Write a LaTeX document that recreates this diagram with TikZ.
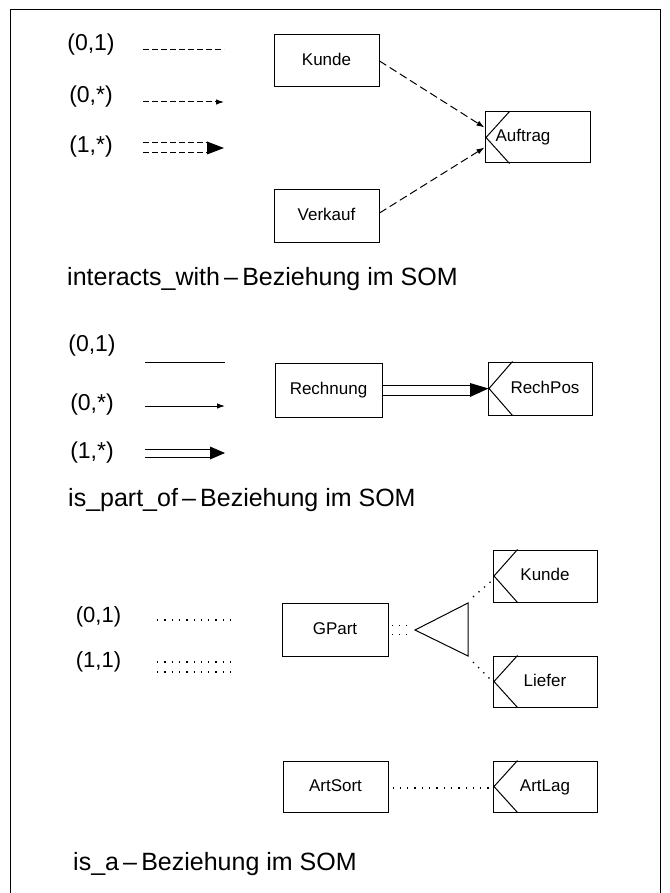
\documentclass[tikz,border=0pt]{standalone}
\usepackage{fontspec}
\setmainfont{Liberation Sans}
\usetikzlibrary{arrows.meta}
\newcommand\notchbox[1]{\draw[thinline] ([xshift=25pt]#1.north west) -- ([xshift=1.5pt]#1.west) -- ([xshift=25pt]#1.south west);}
\begin{document}
\begin{tikzpicture}[x=1pt,y=-1pt,
  thinline/.style={line width=1pt},
  objbox/.style={draw, line width=1pt, minimum width=105pt, minimum height=52pt, inner sep=0pt,
    text height=12.5pt, text depth=3.5pt, font=\fontsize{17}{20}\selectfont},
  card/.style={font=\fontsize{23}{27}\selectfont, inner sep=0pt},
  caption/.style={font=\fontsize{25}{30}\selectfont, inner sep=0pt, anchor=base west},
  legdash/.style={line width=1pt, dash pattern=on 6pt off 3pt},
  iwarrow/.style={line width=1pt, dash pattern=on 8pt off 4pt, -{Latex[length=8pt,width=5.5pt]}},
  dotline/.style={line width=1.3pt, dash pattern=on 1.3pt off 6pt},
  smalltip/.style={-{Latex[length=8pt,width=5.5pt]}}
]
\useasboundingbox (0,0) rectangle (669,893);
% open frame
\draw[line width=1pt] (10,893) -- (10,10) -- (660,10) -- (660,893);

% ---------- interacts_with ----------
\node[card] (c1a) at (91,45) {(0,1)};
\node[card] (c1b) at (91,97) {(0,*)};
\node[card] (c1c) at (91,147) {(1,*)};
\coordinate (l1a) at (143,50);  \coordinate (r1a) at (224,50);
\coordinate (l1b) at (143,102); \coordinate (r1b) at (224,102);
\draw[legdash] (l1a) -- (r1a);
\draw[legdash, smalltip] (l1b) -- (r1b);
\coordinate (l1c) at (143,148); \coordinate (m1c) at (207,148); \coordinate (r1c) at (224,148);
\draw[legdash] ([yshift=5pt]l1c) -- ([yshift=5pt]m1c);
\draw[legdash] ([yshift=-5pt]l1c) -- ([yshift=-5pt]m1c);
\fill ([yshift=6.5pt]m1c) -- (r1c) -- ([yshift=-6.5pt]m1c) -- cycle;

\node[objbox] (kunde) at (326.5,61) {Kunde};
\node[objbox] (verkauf) at (326.5,216) {Verkauf};
\node[objbox, minimum height=51pt] (auftrag) at (537.5,137.5) {};
\node[font=\fontsize{17}{20}\selectfont, inner sep=0pt, text height=12.5pt, text depth=3.5pt] (auftragtxt) at (523,137.5) {Auftrag};
\notchbox{auftrag}
\draw[iwarrow] (kunde.east) -- ([yshift=10pt]auftrag.west);
\draw[iwarrow] ([yshift=3pt]verkauf.east) -- ([yshift=-10pt]auftrag.west);

\node[caption] (t1) at (67,285) {interacts\_with\,–\,Beziehung im SOM};

% ---------- is_part_of ----------
\node[card] (c2a) at (92,346) {(0,1)};
\node[card] (c2b) at (92,405) {(0,*)};
\node[card] (c2c) at (92,453) {(1,*)};
\coordinate (l2a) at (145,362); \coordinate (r2a) at (225,362);
\coordinate (l2b) at (145,406); \coordinate (r2b) at (225,406);
\draw[thinline] (l2a) -- (r2a);
\draw[thinline, -{Latex[length=8pt,width=5.5pt]}] (l2b) -- (r2b);
\coordinate (l2c) at (145,453); \coordinate (m2c) at (210,453); \coordinate (r2c) at (225,453);
\draw[thinline] ([yshift=4pt]l2c) -- ([yshift=4pt]m2c);
\draw[thinline] ([yshift=-4pt]l2c) -- ([yshift=-4pt]m2c);
\fill ([yshift=6.5pt]m2c) -- (r2c) -- ([yshift=-6.5pt]m2c) -- cycle;

\node[objbox, minimum width=107pt, minimum height=54pt] (rechnung) at (328.5,390) {Rechnung};
\node[objbox, minimum width=104pt, minimum height=53pt] (rechpos) at (540,388.5) {\hspace*{10pt}RechPos};
\notchbox{rechpos}
\coordinate (rpbase) at (470,390);
\draw[thinline] ([yshift=5pt]rechnung.east) -- ([yshift=5pt]rpbase |- rechnung.east);
\draw[thinline] ([yshift=-5pt]rechnung.east) -- ([yshift=-5pt]rpbase |- rechnung.east);
\fill ([yshift=7pt]rpbase) -- ([xshift=1pt]rechpos.west) -- ([yshift=-7pt]rpbase) -- cycle;

\node[caption] (t2) at (68,506) {is\_part\_of\,–\,Beziehung im SOM};

% ---------- is_a ----------
\node[card, font=\fontsize{22}{26}\selectfont] (c3a) at (98.5,617) {(0,1)};
\node[card, font=\fontsize{22}{26}\selectfont] (c3b) at (98.5,662) {(1,1)};
\coordinate (l3a) at (157,620); \coordinate (r3a) at (232,620);
\draw[dotline] (l3a) -- (r3a);
\coordinate (l3b) at (157,662); \coordinate (r3b) at (232,662);
\draw[dotline] (l3b) -- (r3b);
\draw[dotline] ([yshift=-10pt]l3b) -- ([yshift=-10pt]r3b);

\node[objbox, minimum width=106pt, minimum height=53pt] (gpart) at (335,629.5) {GPart};
\coordinate (apex) at (415,630);
\coordinate (ttop) at (468,603);
\coordinate (tbot) at (468,656);
\draw[thinline] (apex) -- (ttop) -- (tbot) -- cycle;
\draw[dotline] ([xshift=3pt,yshift=4pt]gpart.east) -- ([xshift=-2pt,yshift=4pt]apex |- gpart.east);
\draw[dotline] ([xshift=3pt,yshift=-5pt]gpart.east) -- ([xshift=-2pt,yshift=-5pt]apex |- gpart.east);

\node[objbox, minimum width=104pt, minimum height=52pt] (kunde2) at (545,576) {Kunde};
\node[objbox, minimum width=104pt, minimum height=51pt] (liefer) at (545,681.5) {Liefer};
\notchbox{kunde2}
\notchbox{liefer}
\coordinate (ktop) at (473,597);
\coordinate (kbot) at (473,662);
\draw[dotline] (ktop) -- ([xshift=-1pt,yshift=-5pt]kunde2.west);
\draw[dotline] (kbot) -- ([xshift=-1pt,yshift=1pt]liefer.west);

\node[objbox, minimum width=105pt, minimum height=51pt] (artsort) at (335.5,786.5) {ArtSort};
\node[objbox, minimum width=104pt, minimum height=51pt] (artlag) at (545,786.5) {ArtLag};
\notchbox{artlag}
\draw[dotline] ([xshift=4pt,yshift=-1.5pt]artsort.east) -- ([xshift=-1pt,yshift=-1.5pt]artlag.west);

\node[caption] (t3) at (73,870) {is\_a\,–\,Beziehung im SOM};
\end{tikzpicture}
\end{document}
